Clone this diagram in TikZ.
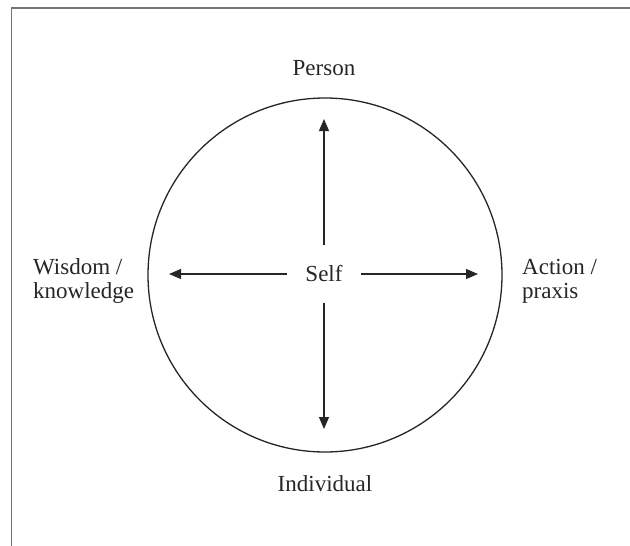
\documentclass[tikz,border=0pt]{standalone}
\usepackage{fontspec}
\setmainfont{Liberation Serif}
\usetikzlibrary{arrows.meta}
\begin{document}
\begin{tikzpicture}[x=1pt,y=-1pt,
  lab/.style={font=\fontsize{23}{24}\selectfont, inner sep=0pt, text=black!85},
  arr/.style={-{Triangle[length=12pt,width=10pt]}, line width=1.2pt, black!85},
  frame/.style={draw=black!55, line width=1.2pt}]
\useasboundingbox (0,0) rectangle (630,546);
\fill[white] (0,0) rectangle (630,546);
\draw[frame] (11.5,546) -- (11.5,8) -- (630,8);
\node[draw=black!85, line width=1.3pt, circle, minimum size=354pt, inner sep=0pt] (C) at (325,275) {};
\node[lab, minimum width=74pt, minimum height=57pt] (S) at (324,274) {Self};
\coordinate (tU) at (324,119);
\coordinate (tD) at (324,429);
\coordinate (tL) at (169,274);
\coordinate (tR) at (478,274);
\draw[arr] (S.north) -- (tU);
\draw[arr] (S.south) -- (tD);
\draw[arr] (S.west) -- (tL);
\draw[arr] (S.east) -- (tR);
\node[lab] (P) at (324,68) {Person};
\node[lab] (I) at (325,484) {Individual};
\node[lab, anchor=west, align=left] (W) at (33,281) {Wisdom /\\knowledge};
\node[lab, anchor=west, align=left] (A) at (522,281) {Action /\\praxis};
\end{tikzpicture}
\end{document}
